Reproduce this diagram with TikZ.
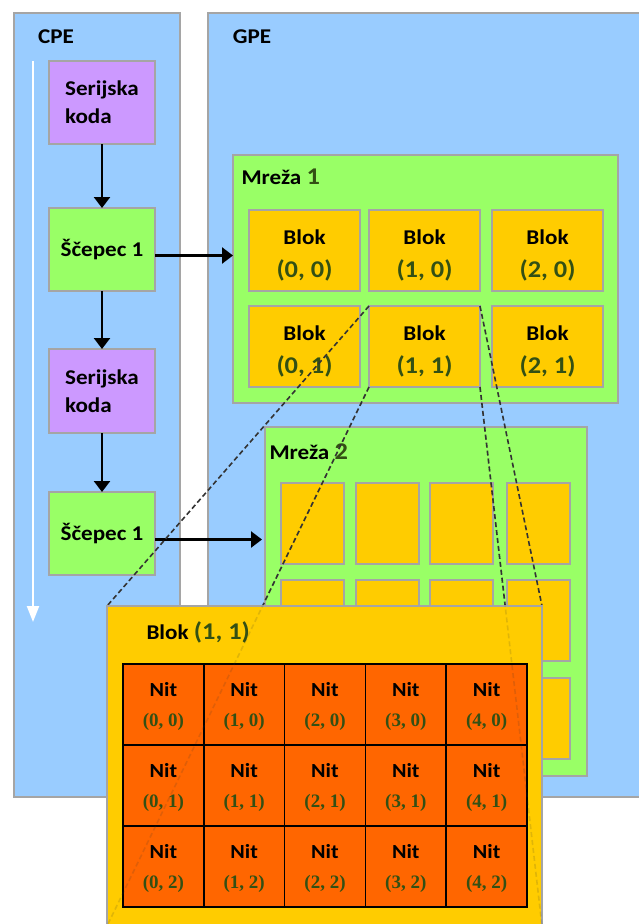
\documentclass[tikz,border=0pt]{standalone}
\usepackage{fontspec}
\setmainfont{Carlito}[FakeStretch=1.1]
\newfontfamily\serifbf{Liberation Serif}
\usetikzlibrary{arrows.meta}

\definecolor{plava}{HTML}{99CCFF}
\definecolor{ljubic}{HTML}{CC99FF}
\definecolor{zelena}{HTML}{99FF66}
\definecolor{zuta}{HTML}{FFCC00}
\definecolor{narand}{HTML}{FF6600}
\definecolor{rub}{HTML}{A5A5A5}
\definecolor{tamnozel}{HTML}{335014}

\newcommand{\koord}[1]{{\color{tamnozel}\fontsize{24}{28}\selectfont #1}}
\newcommand{\nitk}[1]{{\color{tamnozel}\serifbf\bfseries\fontsize{19}{22}\selectfont #1}}

\tikzset{
  okvir/.style={draw=rub, line width=1.2pt, fill=#1, anchor=north west, inner sep=0pt, outer sep=0pt},
  strelica/.style={line width=2.5pt, -{Triangle[width=16pt,length=11pt]}},
  isprek/.style={draw=black!80, line width=1.6pt, dash pattern=on 5pt off 3pt},
  nit/.style={draw=black, line width=1.6pt, fill=narand, anchor=north west, inner sep=0pt, outer sep=0pt,
    minimum width=80.8pt, minimum height=81pt, align=center, font=\bfseries\fontsize{20}{30}\selectfont},
}

\begin{document}
\begin{tikzpicture}[x=1pt, y=-1pt, font=\bfseries\fontsize{21}{24}\selectfont]
\fill[white] (0,0) rectangle (638,924);
\useasboundingbox (0,0) rectangle (638,924);

% CPE strana
\path (14,13) node[okvir=plava, minimum width=166pt, minimum height=784pt] (cpe) {};
\path (208,13) node[okvir=plava, minimum width=434pt, minimum height=784pt] (gpe) {};
\path (56,37) node (cpelab) {CPE};
\path (252,37) node (gpelab) {GPE};
\coordinate (tok1) at (33,61);
\coordinate (tok2) at (33,622);
\draw[white, line width=2.2pt, -{Triangle[width=12pt,length=16pt]}] (tok1) -- (tok2);

\path (49,61) node[okvir=ljubic, minimum width=106pt, minimum height=83pt, align=left, font=\bfseries\fontsize{21}{28}\selectfont] (ser1) {Serijska\\koda};
\path (49,208) node[okvir=zelena, minimum width=106pt, minimum height=83pt] (sc1) {Ščepec 1};
\path (49,349) node[okvir=ljubic, minimum width=106pt, minimum height=84pt, align=left, font=\bfseries\fontsize{21}{28}\selectfont] (ser2) {Serijska\\koda};
\path (49,492) node[okvir=zelena, minimum width=106pt, minimum height=83pt] (sc2) {Ščepec 1};

\draw[strelica] (ser1) -- (sc1);
\draw[strelica] (sc1) -- (ser2);
\draw[strelica] (ser2) -- (sc2);

% GPE: mreze
\path (233,155) node[okvir=zelena, minimum width=385pt, minimum height=248pt] (m1) {};
\path (238,177) node[anchor=west] (m1lab) {Mreža \koord{1}};
\foreach \c/\x in {0/249,1/369,2/492}
  \foreach \r/\y in {0/210,1/306}
    \path (\x,\y) node[okvir=zuta, minimum width=111pt, minimum height=81pt, align=center,
      font=\bfseries\fontsize{21}{33}\selectfont] (b\c\r) {\rule{0pt}{24pt}Blok\\\koord{(\c, \r)}};

\path (265,427) node[okvir=zelena, minimum width=322pt, minimum height=349pt] (m2) {};
\path (266,452) node[anchor=west] (m2lab) {Mreža \koord{2}};
\foreach \c/\x in {0/281,1/356,2/430,3/507}
  \foreach \r/\y in {0/483,1/580,2/678}
    \path (\x,\y) node[okvir=zuta, minimum width=63pt, minimum height=81pt] (g\c\r) {};

\coordinate (s1) at ([yshift=-6pt]sc1.east);
\coordinate (s2) at ([yshift=-6pt]sc2.east);
\draw[strelica] (s1) -- (s1 -| m1.west);
\draw[strelica] (s2) -- ([xshift=-3pt]s2 -| m2.west);

\draw[isprek] (b11.north west) -- (107,606);
\draw[isprek] (b11.south west) -- (107,926);
\draw[isprek] (b11.north east) -- (542,606);
\draw[isprek] (b11.south east) -- (542,926);

% blok (1, 1) uvecano
\path (107,606) node[okvir=zuta, minimum width=435pt, minimum height=320pt] (blk) {};
\path (143,632) node[anchor=west] (blklab) {Blok \koord{(1, 1)}};
\foreach \c in {0,...,4}
  \foreach \r in {0,1,2}
    \path ({123+80.8*\c},{664+81*\r}) node[nit] (n\c\r) {\rule{0pt}{19pt}Nit\\\nitk{(\c, \r)}};
\draw[isprek, opacity=.15] (b11.south west) -- (blk.south west);
\draw[isprek, opacity=.15] (b11.south east) -- (blk.south east);
\end{tikzpicture}
\end{document}
